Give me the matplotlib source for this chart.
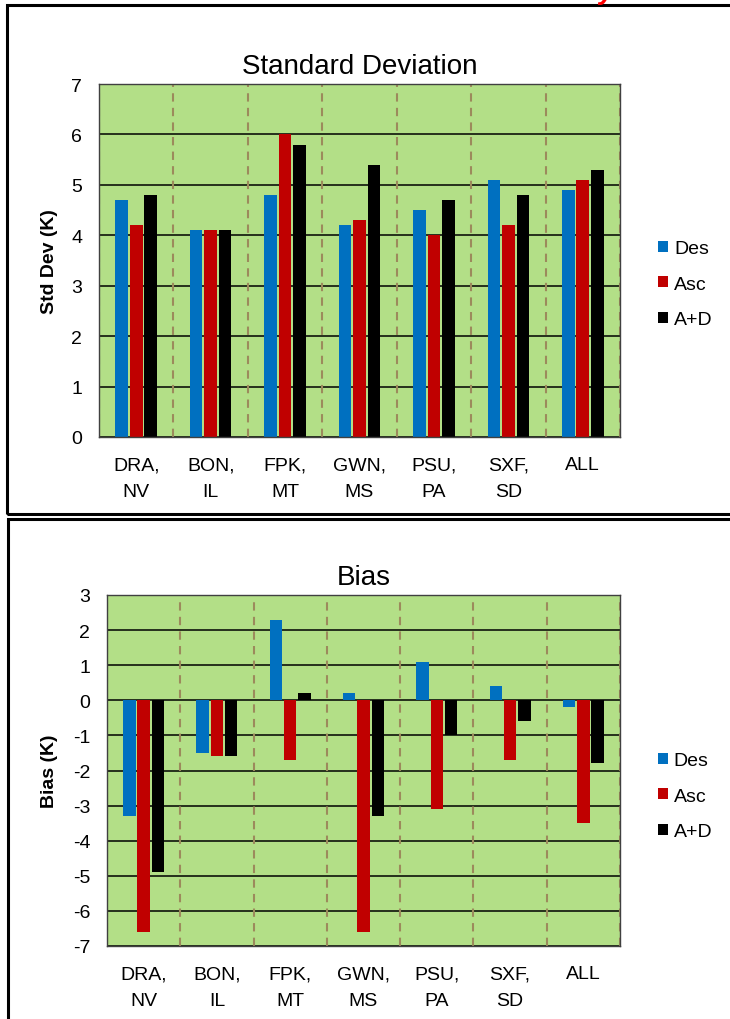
import numpy as np
import matplotlib.pyplot as plt
from matplotlib.patches import Rectangle

plt.rcParams['font.family'] = ['Liberation Sans', 'DejaVu Sans']
plt.rcParams['axes.unicode_minus'] = False  # plain hyphen like the original

sites = ['DRA,\nNV', 'BON,\nIL', 'FPK,\nMT', 'GWN,\nMS', 'PSU,\nPA', 'SXF,\nSD', 'ALL']
series = ['Des', 'Asc', 'A+D']
colors = ['#0070C0', '#C00000', '#000000']

# standard deviation (K)
std_des = [4.7, 4.1, 4.8, 4.2, 4.5, 5.1, 4.9]
std_asc = [4.2, 4.1, 6.0, 4.3, 4.0, 4.2, 5.1]
std_ad = [4.8, 4.1, 5.8, 5.4, 4.7, 4.8, 5.3]

# bias (K)
bias_des = [-3.3, -1.5, 2.3, 0.2, 1.1, 0.4, -0.2]
bias_asc = [-6.6, -1.6, -1.7, -6.6, -3.1, -1.7, -3.5]
bias_ad = [-4.9, -1.6, 0.2, -3.3, -1.0, -0.6, -1.8]

W, H = 730, 1020
fig = plt.figure(figsize=(W / 100, H / 100), dpi=100)


def px_axes(l, t, r, b):
    return fig.add_axes([l / W, 1 - b / H, (r - l) / W, (b - t) / H])


def px_box(l, t, r, b):
    # black frame around each chart panel (figure pixel coords)
    fig.patches.append(Rectangle((l / W, 1 - b / H), (r - l) / W, (b - t) / H,
                                 transform=fig.transFigure, fill=False,
                                 edgecolor='black', lw=2.2, clip_on=False))


def draw(ax, data, ylim, title, ylabel, lab_x, leg_y):
    x = np.arange(len(sites))
    for i, (vals, c, name) in enumerate(zip(data, colors, series)):
        ax.bar(x + (i - 1) * 0.195, vals, width=0.17, color=c, label=name, zorder=2)
    ax.set_xlim(-0.5, len(sites) - 0.5)
    ax.set_ylim(*ylim)
    ax.set_yticks(np.arange(ylim[0], ylim[1] + 1))
    ax.set_facecolor('#B3DF87')
    ax.set_axisbelow(True)
    ax.yaxis.grid(True, color='black', lw=1.1)
    for b in np.arange(-0.5, len(sites), 1.0):
        ax.axvline(b, color='#9C8A5C', ls=(0, (4, 3)), lw=1.5, zorder=1)
    for s in ax.spines.values():
        s.set_color('#404040')
        s.set_linewidth(1)
    ax.set_xticks(x)
    ax.set_xticklabels(sites, linespacing=1.7)
    ax.tick_params(axis='x', length=0, labelsize=14, pad=14)
    ax.tick_params(axis='y', length=0, labelsize=14, pad=12)
    ax.set_title(title, fontsize=20, pad=8)
    ax.set_ylabel(ylabel, fontsize=14, fontweight='bold')
    ax.yaxis.set_label_coords(lab_x, 0.5)
    ax.legend(loc='center left', bbox_to_anchor=(1.055, leg_y), frameon=False,
              fontsize=14, handlelength=0.5, handleheight=0.5,
              handletextpad=0.3, labelspacing=0.95, borderpad=0)


ax1 = px_axes(99, 85, 620, 438)
draw(ax1, [std_des, std_asc, std_ad], (0, 7), 'Standard Deviation', 'Std Dev (K)', -0.079, 0.433)

ax2 = px_axes(107, 596, 620, 947)
draw(ax2, [bias_des, bias_asc, bias_ad], (-7, 3), 'Bias', 'Bias (K)', -0.095, 0.427)

px_box(7, 6, 745, 515)
px_box(8, 520, 745, 1035)

# cut-off red heading above the top panel
fig.text(606 / W, 1 + 1 / H, 'y', color='red', fontsize=20, fontweight='bold',
         style='italic', ha='center', va='baseline')

fig.savefig('out.png', dpi=100)
